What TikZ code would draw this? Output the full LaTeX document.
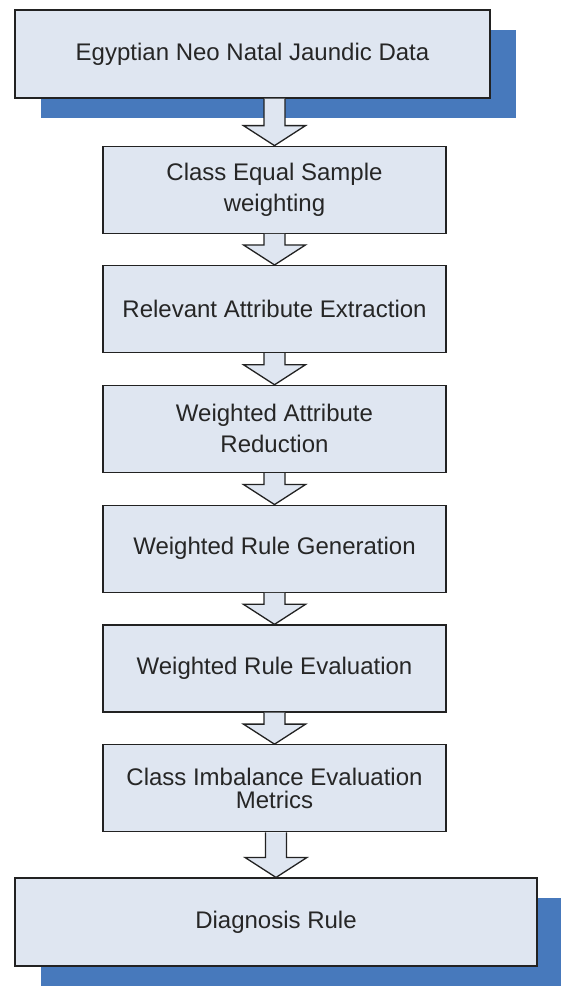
\documentclass[tikz,border=0pt]{standalone}
\usepackage{fontspec}
\setmainfont{Liberation Sans}
\usepackage{tikz}
\usetikzlibrary{positioning, calc, shadows}

\definecolor{boxfill}{HTML}{DFE6F1}
\definecolor{shadowblue}{HTML}{4779BC}
\definecolor{edge}{HTML}{222222}

% hollow block arrow from the bottom of one box to the top of the next
\newcommand{\flowarrow}[2]{%
    \draw[blockarrow] ($(#1.south -| #2.north)+(-10.5,0)$) -- ($(#2.north)+(-10.5,20)$)
        -- ($(#2.north)+(-31,20)$) -- (#2.north) -- ($(#2.north)+(31,20)$)
        -- ($(#2.north)+(10.5,20)$) -- ($(#1.south -| #2.north)+(10.5,0)$);}

\begin{document}
\begin{tikzpicture}[
    x=1pt, y=1pt,
    % --- STYLES ---
    base/.style={draw=edge, line width=1.3pt, fill=boxfill, align=center, inner sep=0pt,
        font=\fontsize{24}{31}\selectfont, text=black!85},
    stage/.style={base, rectangle, minimum width=343pt, minimum height=87pt},
    shadowed/.style={drop shadow={shadow xshift=26pt, shadow yshift=-20pt, fill=shadowblue, opacity=1}},
    endpoint/.style={base, rectangle, shadowed, minimum height=88pt},
    blockarrow/.style={draw=edge, line width=1.3pt, fill=boxfill, line join=miter}
]
    \useasboundingbox (0,0) rectangle (560,986);

    % --- NODES ---
    \node[endpoint, minimum width=475pt] (data) at (252.5,932) {Egyptian Neo Natal Jaundic Data};

    % Middle column, 31pt apart
    \node[stage, below=47pt of data, xshift=22pt] (weighting) {Class Equal Sample\\weighting};
    \node[stage, below=31pt of weighting] (extract) {Relevant Attribute Extraction};
    \node[stage, below=31.5pt of extract] (reduce) {Weighted Attribute\\Reduction};
    \node[stage, below=31.5pt of reduce] (rulegen) {Weighted Rule Generation};
    \node[stage, below=31.5pt of rulegen] (ruleeval) {Weighted Rule Evaluation};
    \node[stage, below=31.5pt of ruleeval, font=\fontsize{24}{23}\selectfont] (metrics) {Class Imbalance Evaluation\\Metrics};

    \node[endpoint, below=45pt of metrics, xshift=1.5pt, minimum width=522pt] (diag) {Diagnosis Rule};

    % --- FLOW ---
    \flowarrow{data}{weighting}
    \flowarrow{weighting}{extract}
    \flowarrow{extract}{reduce}
    \flowarrow{reduce}{rulegen}
    \flowarrow{rulegen}{ruleeval}
    \flowarrow{ruleeval}{metrics}
    \flowarrow{metrics}{diag}

\end{tikzpicture}
\end{document}
